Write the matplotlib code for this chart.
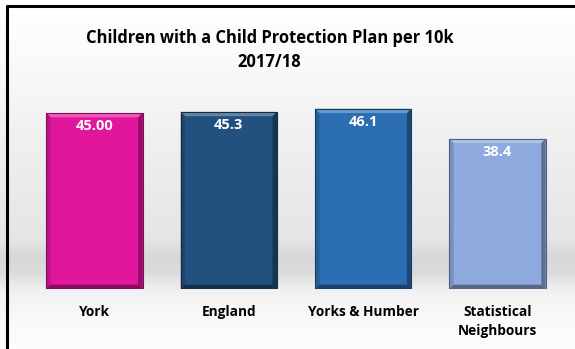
import numpy as np
import matplotlib.pyplot as plt
from matplotlib.patches import Polygon
from matplotlib.colors import to_rgb

# CP plan rates per 10k children, 2017/18
areas = ['York', 'England', 'Yorks & Humber', 'Statistical\nNeighbours']
rates = [45.00, 45.3, 46.1, 38.4]
rate_labels = ['45.00', '45.3', '46.1', '38.4']
colours = ['#e2169c', '#22507f', '#2c6eb3', '#8eaadf']

W, H = 575, 349
fig = plt.figure(figsize=(W / 100, H / 100), dpi=100)

# soft grey backdrop with a darker band behind the base of the bars
bg = fig.add_axes([0, 0, 1, 1])
rows = np.arange(H)
stops_y = [0, 50, 150, 238, 256, 272, 290, 320, H]
stops_v = [1.0, 0.985, 0.935, 0.9, 0.845, 0.86, 0.945, 0.98, 0.99]
shade = np.interp(rows, stops_y, stops_v)
img = np.repeat(shade[:, None], W, axis=1)
bg.imshow(np.dstack([img] * 3), extent=(0, W, H, 0), aspect='auto',
          interpolation='bilinear')
bg.plot([7, 7, W], [H, 5.5, 5.5], color='black', lw=2.2, solid_capstyle='butt')
bg.set_xlim(0, W)
bg.set_ylim(H, 0)
bg.axis('off')

title_font = dict(family='Open Sans', weight='bold', fontsize=11.9)
bg.text(W / 2 - 18, 38, 'Children with a Child Protection Plan per 10k',
        ha='center', va='center', **title_font)
bg.text(W / 2 - 18, 62, '2017/18', ha='center', va='center', **title_font)

ax = fig.add_axes([27.3 / W, 60 / H, 537.4 / W, 195.5 / H])
x = np.arange(len(areas))
bars = ax.bar(x, rates, width=0.715, color=colours, zorder=2)
ax.set_xlim(-0.5, len(areas) - 0.5)
ax.set_ylim(0, 50)
ax.axis('off')


def mix(c, t, amt):
    c = np.array(to_rgb(c))
    t = np.array(to_rgb(t))
    return tuple(c + (t - c) * amt)


# bevelled edges on each bar
bx, by = 0.032, 1.1
for bar, col in zip(bars, colours):
    x0, y0 = bar.get_x(), bar.get_y()
    x1, y1 = x0 + bar.get_width(), y0 + bar.get_height()
    faces = [
        ([(x0, y1), (x1, y1), (x1 - bx, y1 - by), (x0 + bx, y1 - by)], mix(col, 'white', 0.3)),
        ([(x0, y0), (x0, y1), (x0 + bx, y1 - by), (x0 + bx, y0 + by)], mix(col, 'black', 0.15)),
        ([(x1, y0), (x1, y1), (x1 - bx, y1 - by), (x1 - bx, y0 + by)], mix(col, 'black', 0.35)),
        ([(x0, y0), (x1, y0), (x1 - bx, y0 + by), (x0 + bx, y0 + by)], mix(col, 'black', 0.4)),
    ]
    for pts, fc in faces:
        ax.add_patch(Polygon(pts, closed=True, facecolor=fc, edgecolor='none', zorder=3))
    ax.add_patch(Polygon([(x0, y0), (x0, y1), (x1, y1), (x1, y0)], closed=True,
                         fill=False, edgecolor=mix(col, 'black', 0.45), lw=0.8, zorder=4))

for bar, lab in zip(bars, rate_labels):
    ax.text(bar.get_x() + bar.get_width() / 2, bar.get_height() - 3.4, lab,
            ha='center', va='center', color='white', fontsize=10.5,
            family='Open Sans', weight='bold', zorder=5)

for xi, name in zip(x, areas):
    ax.text(xi, -4.0, name, ha='center', va='top', fontsize=9.8,
            family='Open Sans', weight='bold', linespacing=1.45,
            clip_on=False)

fig.savefig('out.png', dpi=100)
